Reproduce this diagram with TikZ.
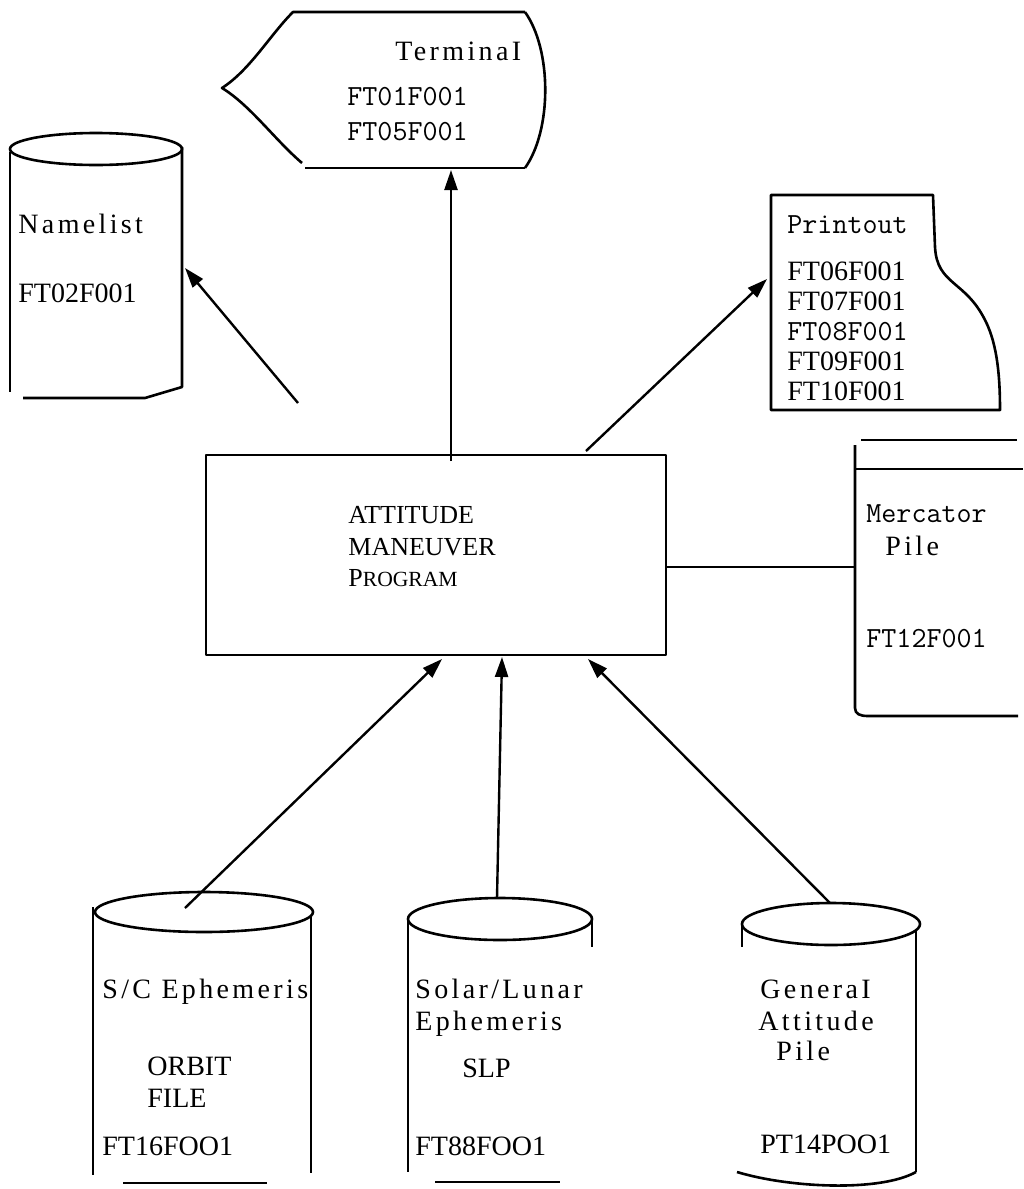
\documentclass[tikz,border=0pt]{standalone}
\usepackage{fontspec}
\setmainfont{Liberation Serif}
\newfontfamily\spaced[LetterSpace=12]{Liberation Serif}
\usepackage{tikz}
\usetikzlibrary{arrows.meta}

\tikzset{
    outline/.style={line width=1.3pt, line join=round},
    flow/.style={line width=1.2pt, -{Triangle[length=10pt,width=6.5pt]}},
    lbl/.style={anchor=base west, inner sep=0pt, font=\fontsize{14}{16}\selectfont},
    lblsp/.style={anchor=base west, inner sep=0pt, font=\spaced\fontsize{14}{16}\selectfont},
    lbltt/.style={anchor=base west, inner sep=0pt, font=\ttfamily\fontsize{14.6}{16}\selectfont},
    lblbox/.style={anchor=base west, inner sep=0pt, font=\fontsize{13}{15}\selectfont},
}

\begin{document}
\begin{tikzpicture}[x=0.5pt, y=-0.5pt]
    \useasboundingbox (0, 0) rectangle (1023, 1189);

    % main program
    \node[outline, draw, minimum width=230pt, minimum height=100pt, inner sep=0pt] (amp) at (436, 555) {};
    \node[lblbox] (amp1) at (348, 523) {ATTITUDE};
    \node[lblbox] (amp2) at (348, 555) {MANEUVER};
    \node[lblbox] (amp3) at (348, 586) {P{\fontsize{10.8}{12}\selectfont ROGRAM}};

    % terminal
    \draw[outline] (525, 12) -- (293, 12) .. controls (270, 35) and (250, 70) .. (222, 88)
        .. controls (250, 105) and (275, 140) .. (302, 163);
    \draw[outline] (305, 168) -- (525, 168);
    \draw[outline] (525, 12) .. controls (552, 50) and (552, 130) .. (525, 168);
    \node[lblsp] (term) at (395, 60) {TerminaI};
    \node[lbltt] (term1) at (347, 105) {FT01F001};
    \node[lbltt] (term2) at (347, 140) {FT05F001};

    % namelist
    \draw[outline] (96, 149) ellipse [x radius=86, y radius=16];
    \draw[outline] (10, 152) -- (10, 392);
    \draw[outline] (182, 147) -- (182, 387) -- (145, 398) -- (23, 398);
    \node[lblsp] (nl) at (18, 233) {Namelist};
    \node[lbl] (nl1) at (18, 302) {FT02F001};

    % printout
    \draw[outline] (771, 410) -- (771, 195) -- (933, 195) -- (935, 247)
        .. controls (937, 285) and (965, 280) .. (985, 320)
        .. controls (998, 345) and (1000, 380) .. (1000, 410) -- cycle;
    \node[lbltt] (pr) at (787, 233) {Printout};
    \node[lbl] (pr1) at (787, 280) {FT06F001};
    \node[lbl] (pr2) at (787, 310) {FT07F001};
    \node[lbltt] (pr3) at (787, 340) {FT08F001};
    \node[lbl] (pr4) at (787, 370) {FT09F001};
    \node[lbl] (pr5) at (787, 400) {FT10F001};

    % mercator file
    \draw[outline] (861, 440) -- (1017, 440);
    \draw[outline] (855, 469) -- (1023, 469);
    \draw[outline] (855, 445) -- (855, 708) .. controls (855, 714) and (860, 716) .. (868, 716) -- (1018, 716);
    \node[lbltt] (mf1) at (866, 522) {Mercator};
    \node[lblsp] (mf2) at (885, 555) {Pile};
    \node[lbltt] (mf3) at (866, 647) {FT12F001};

    % S/C ephemeris
    \draw[outline] (204, 912) ellipse [x radius=109, y radius=20];
    \draw[outline] (93, 907) -- (93, 1175);
    \draw[outline] (311, 915) -- (311, 1173);
    \draw[outline] (123, 1183) -- (267, 1183);
    \node[lblsp] (sc1) at (102, 998) {S/C Ephemeris};
    \node[lbl] (sc2) at (147, 1075) {ORBIT};
    \node[lbl] (sc3) at (147, 1107) {FILE};
    \node[lbl] (sc4) at (102, 1155) {FT16FOO1};

    % solar/lunar ephemeris
    \draw[outline] (500, 919) ellipse [x radius=92, y radius=21];
    \draw[outline] (408, 920) -- (408, 1172);
    \draw[outline] (592, 919) -- (592, 947);
    \draw[outline] (435, 1182) -- (560, 1182);
    \node[lblsp] (sl1) at (415, 998) {Solar/Lunar};
    \node[lblsp] (sl2) at (415, 1030) {Ephemeris};
    \node[lbl] (sl3) at (462, 1077) {SLP};
    \node[lbl] (sl4) at (415, 1155) {FT88FOO1};

    % general attitude file
    \draw[outline] (831, 924) ellipse [x radius=89, y radius=21];
    \draw[outline] (742, 924) -- (742, 947);
    \draw[outline] (916, 930) -- (916, 1172);
    \draw[outline] (737, 1172) .. controls (790, 1188) and (880, 1192) .. (916, 1172);
    \node[lblsp] (ga1) at (760, 998) {GeneraI};
    \node[lblsp] (ga2) at (758, 1030) {Attitude};
    \node[lblsp] (ga3) at (776, 1060) {Pile};
    \node[lbl] (ga4) at (760, 1153) {PT14POO1};

    % connectors
    \coordinate (nl-in) at (185, 268);
    \coordinate (nl-out) at (298, 403);
    \coordinate (term-in) at (451, 170);
    \coordinate (term-out) at (451, 461);
    \coordinate (pr-in) at (767, 279);
    \coordinate (pr-out) at (586, 451);
    \coordinate (mf-in) at (855, 567);
    \coordinate (sc-out) at (185, 908);
    \coordinate (sc-in) at (442, 659);
    \coordinate (sl-out) at (497, 898);
    \coordinate (sl-in) at (502, 657);
    \coordinate (ga-out) at (830, 903);
    \coordinate (ga-in) at (588, 659);
    \draw[flow] (nl-out) -- (nl-in);
    \draw[flow] (term-out) -- (term-in);
    \draw[flow] (pr-out) -- (pr-in);
    \draw[outline] (amp.east |- mf-in) -- (mf-in);
    \draw[flow] (sc-out) -- (sc-in);
    \draw[flow] (sl-out) -- (sl-in);
    \draw[flow] (ga-out) -- (ga-in);
\end{tikzpicture}
\end{document}
